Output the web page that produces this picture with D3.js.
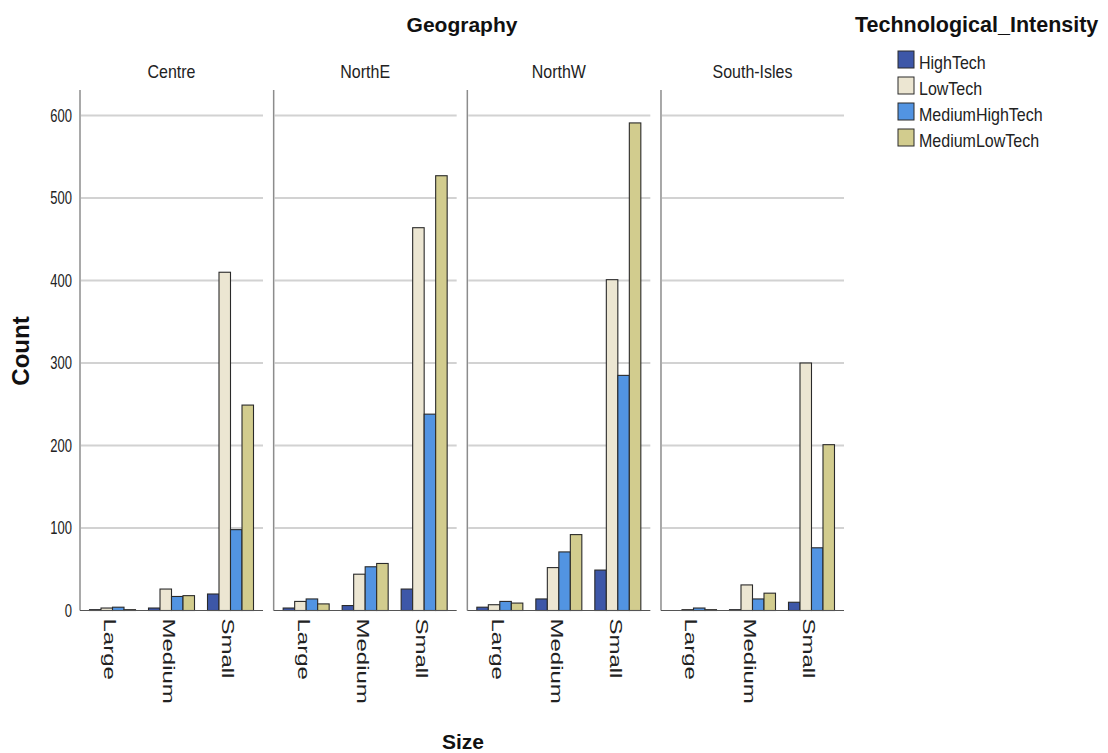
<!DOCTYPE html>
<html><head><meta charset="utf-8">
<script src="https://cdn.jsdelivr.net/npm/d3@7"></script>
<style>body{margin:0;background:#fff}svg{display:block;font-family:"Liberation Sans",Arial,sans-serif}</style>
</head><body><svg id="c" width="1108" height="753"></svg>
<script>
const geographies = ["Centre","NorthE","NorthW","South-Isles"];
const sizes = ["Large","Medium","Small"];
const intensities = ["HighTech","LowTech","MediumHighTech","MediumLowTech"];
const colors = ["#3d57a8","#ece6d2","#5294e2","#d2cc8e"];
const yTicks = [0,100,200,300,400,500,600];
// counts per geography: [size][intensity]
const centre = [[1,3,4,1],[3,26,17,18],[20,410,98,249]];
const northE = [[3,11,14,8],[6,44,53,57],[26,464,238,527]];
const northW = [[4,7,11,9],[14,52,71,92],[49,401,285,591]];
const southIsles = [[0,1,3,1],[1,31,14,21],[10,300,76,201]];
const counts = [centre,northE,northW,southIsles];

const svg = d3.select("#c");
const fx = d3.scaleBand().domain(geographies).range([80,844]).paddingInner(0.055).paddingOuter(0);
const pw = fx.bandwidth();
const xs = d3.scalePoint().domain(sizes).range([0,pw]).padding(0.551);
const xi = d3.scaleBand().domain(intensities).range([-23,23]).padding(0);
const y = d3.scaleLinear().domain([0,600]).range([610.5,115.5]);
const color = d3.scaleOrdinal().domain(intensities).range(colors);

geographies.forEach((g,gi)=>{
  const p = svg.append("g").attr("transform",`translate(${fx(g)},0)`);
  p.selectAll("line.grid").data(yTicks.filter(t=>t>0)).join("line")
    .attr("x1",1).attr("x2",pw).attr("y1",d=>y(d)).attr("y2",d=>y(d))
    .attr("stroke","#d2d2d2").attr("stroke-width",2);
  sizes.forEach((s,si)=>{
    const grp = p.append("g").attr("transform",`translate(${xs(s)},0)`);
    grp.selectAll("rect").data(intensities.map((k,ki)=>({k,v:counts[gi][si][ki]}))).join("rect")
      .attr("x",d=>xi(d.k)).attr("width",xi.bandwidth())
      .attr("y",d=>y(d.v)).attr("height",d=>y(0)-y(d.v))
      .attr("fill",d=>color(d.k)).attr("stroke","#2a2a2a").attr("stroke-width",1.1);
  });
  p.append("line").attr("x1",0).attr("x2",0).attr("y1",90).attr("y2",y(0))
    .attr("stroke","#8c8c8c").attr("stroke-width",1.5);
  p.append("line").attr("x1",0).attr("x2",pw).attr("y1",y(0)).attr("y2",y(0))
    .attr("stroke","#555").attr("stroke-width",1.2);
  p.append("text").attr("transform",`translate(${pw/2},78) scale(1,1.15)`).attr("text-anchor","middle")
    .attr("font-size",16).attr("fill","#222").text(g);
  const xa = d3.axisBottom(xs).tickSize(0).tickPadding(0);
  const xg = p.append("g").attr("transform",`translate(0,${y(0)})`).call(xa);
  xg.select(".domain").remove();
  xg.selectAll(".tick text").attr("transform","translate(0,8) scale(1,1.5) rotate(90)").attr("x",0).attr("y",0)
    .attr("dy","0.55em").attr("text-anchor","start").attr("font-size",16)
    .attr("font-family","Liberation Sans, Arial, sans-serif").attr("fill","#222");
});

const ya = d3.axisLeft(y).tickValues(yTicks).tickSize(0).tickPadding(0);
const yg = svg.append("g").attr("transform",`translate(80,0)`).call(ya);
yg.select(".domain").remove();
yg.selectAll(".tick text").attr("transform","translate(-8,0) scale(1,1.35)").attr("x",0).attr("dy","0.32em")
  .attr("font-size",13).attr("font-family","Liberation Sans, Arial, sans-serif").attr("fill","#222");

svg.append("text").attr("x",462).attr("y",32).attr("text-anchor","middle")
  .attr("font-size",21).attr("font-weight","bold").attr("fill","#111").text("Geography");
svg.append("text").attr("x",463).attr("y",749).attr("text-anchor","middle")
  .attr("font-size",21).attr("font-weight","bold").attr("fill","#111").text("Size");
svg.append("text").attr("transform","translate(29,351) rotate(-90)").attr("text-anchor","middle")
  .attr("font-size",24).attr("font-weight","bold").attr("fill","#111").text("Count");
svg.append("text").attr("x",855).attr("y",32)
  .attr("font-size",21.5).attr("font-weight","bold").attr("fill","#111").text("Technological_Intensity");

const lg = svg.append("g").attr("transform","translate(898,51)");
const li = lg.selectAll("g").data(intensities).join("g").attr("transform",(d,i)=>`translate(0,${i*26})`);
li.append("rect").attr("width",16).attr("height",17).attr("fill",d=>color(d)).attr("stroke","#2a2a2a").attr("stroke-width",1);
li.append("text").attr("transform","translate(21,18) scale(0.915,1)").attr("font-size",17.5).attr("fill","#222").text(d=>d);
</script></body></html>
